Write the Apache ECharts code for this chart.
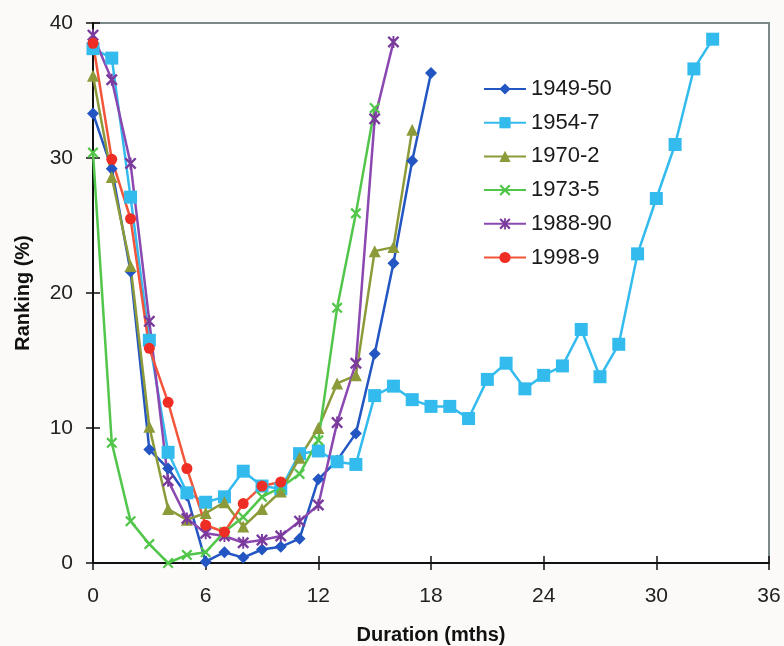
<!DOCTYPE html>
<html>
<head>
<meta charset="utf-8">
<script src="https://cdn.jsdelivr.net/npm/echarts@6/dist/echarts.min.js"></script>
<style>
html,body{margin:0;padding:0;background:#fcfaf8;}
#chart{width:784px;height:646px;}
</style>
</head>
<body>
<div id="chart"></div>
<script>
// ranking (%) by month of duration, month = array index
var r1949 = [33.3, 29.2, 21.6, 8.4, 7.0, 5.0, 0.1, 0.8, 0.4, 1.0, 1.2, 1.8, 6.2, 7.6, 9.6, 15.5, 22.2, 29.8, 36.3];
var r1954 = [38.1, 37.4, 27.1, 16.5, 8.2, 5.2, 4.5, 4.9, 6.8, 5.7, 5.5, 8.1, 8.3, 7.5, 7.3, 12.4, 13.1, 12.1, 11.6, 11.6,
             10.7, 13.6, 14.8, 12.9, 13.9, 14.6, 17.3, 13.8, 16.2, 22.9, 27.0, 31.0, 36.6, 38.8];
var r1970 = [36.1, 28.6, 22.0, 10.1, 4.0, 3.2, 3.7, 4.5, 2.7, 4.0, 5.3, 7.8, 10.0, 13.3, 13.9, 23.1, 23.4, 32.1];
var r1973 = [30.4, 8.9, 3.1, 1.4, 0.0, 0.6, 0.8, 2.3, 3.4, 4.9, 5.6, 6.6, 9.1, 18.9, 25.9, 33.7];
var r1988 = [39.1, 35.8, 29.6, 17.9, 6.1, 3.3, 2.2, 2.0, 1.5, 1.7, 2.0, 3.1, 4.3, 10.4, 14.8, 32.9, 38.6];
var r1998 = [38.5, 29.9, 25.5, 15.9, 11.9, 7.0, 2.8, 2.3, 4.4, 5.7, 6.0];

var names = ['1949-50', '1954-7', '1970-2', '1973-5', '1988-90', '1998-9'];
var xTicks = [0, 6, 12, 18, 24, 30, 36];
var yTicks = [0, 10, 20, 30, 40];

var crossPath = 'path://M0,1.4L1.4,0L5,3.6L8.6,0L10,1.4L6.4,5L10,8.6L8.6,10L5,6.4L1.4,10L0,8.6L3.6,5Z';
var starPath = 'path://M0,1.4L1.4,0L5,3.6L8.6,0L10,1.4L6.4,5L10,8.6L8.6,10L5,6.4L1.4,10L0,8.6L3.6,5Z M4.2,0L5.8,0L5.8,10L4.2,10Z';

function pts(arr){
	return arr.map(function(v, i){ return [i, v]; });
}

var font = "'Liberation Sans',Arial,sans-serif";

function mkSeries(name, data, color, symbol, size, lineColor){
	return {
		name: name,
		type: 'line',
		data: pts(data),
		symbol: symbol,
		symbolSize: size,
		showSymbol: true,
		lineStyle: {color: lineColor || color, width: 2.5},
		itemStyle: {color: color},
		emphasis: {disabled: true},
		z: 3
	};
}

var option = {
	backgroundColor: '#fcfaf8',
	animation: false,
	grid: {
		left: 93, right: 15, top: 23, bottom: 83,
		outerBoundsMode: 'none',
		containLabel: false,
		show: true,
		backgroundColor: '#ffffff',
		borderColor: '#7a8888',
		borderWidth: 2
	},
	legend: {
		orient: 'vertical',
		left: 478,
		top: 73,
		itemWidth: 42,
		itemHeight: 14,
		itemGap: 11.7,
		data: names,
		textStyle: {fontFamily: font, fontSize: 22, color: '#1a1a1a'},
		selectedMode: false
	},
	xAxis: [
		{
			type: 'value', min: 0, max: 36, interval: 6,
			name: 'Duration (mths)', nameLocation: 'middle', nameGap: 62,
			nameTextStyle: {fontFamily: font, fontSize: 20, fontWeight: 'bold', color: '#111'},
			axisLine: {show: true, onZero: false, lineStyle: {color: '#111', width: 2}},
			axisTick: {show: true, inside: false, length: 7, lineStyle: {color: '#111', width: 1.5}},
			axisLabel: {fontFamily: font, fontSize: 21, color: '#222', margin: 23,
				formatter: function(v){ return xTicks.indexOf(v) >= 0 ? String(v) : ''; }},
			splitLine: {show: false}
		},
		{
			type: 'value', min: 0, max: 36, interval: 6, position: 'bottom',
			axisLine: {show: false},
			axisTick: {show: true, inside: true, length: 7, lineStyle: {color: '#111', width: 1.5}},
			axisLabel: {show: false},
			splitLine: {show: false}
		}
	],
	yAxis: [
		{
			type: 'value', min: 0, max: 40, interval: 10,
			name: 'Ranking (%)', nameLocation: 'middle', nameGap: 60, nameRotate: 90,
			nameTextStyle: {fontFamily: font, fontSize: 20, fontWeight: 'bold', color: '#111'},
			axisLine: {show: true, onZero: false, lineStyle: {color: '#111', width: 2}},
			axisTick: {show: true, inside: false, length: 7, lineStyle: {color: '#111', width: 1.5}},
			axisLabel: {fontFamily: font, fontSize: 21, color: '#222', margin: 20,
				formatter: function(v){ return yTicks.indexOf(v) >= 0 ? String(v) : ''; }},
			splitLine: {show: false}
		},
		{
			type: 'value', min: 0, max: 40, interval: 10, position: 'left',
			axisLine: {show: false},
			axisTick: {show: true, inside: true, length: 7, lineStyle: {color: '#111', width: 1.5}},
			axisLabel: {show: false},
			splitLine: {show: false}
		}
	],
	series: [
		mkSeries('1949-50', r1949, '#2356c2', 'diamond', 12),
		mkSeries('1954-7', r1954, '#33bbee', 'rect', 13),
		mkSeries('1970-2', r1970, '#8c9a3a', 'triangle', 12),
		mkSeries('1973-5', r1973, '#52c64a', crossPath, 11),
		mkSeries('1988-90', r1988, '#7a3b9c', starPath, 12, '#8a48b0'),
		mkSeries('1998-9', r1998, '#ee2e24', 'circle', 11, '#f2553a')
	]
};

var mychart = echarts.init(document.getElementById('chart'));
mychart.setOption(option);
</script>
</body>
</html>
